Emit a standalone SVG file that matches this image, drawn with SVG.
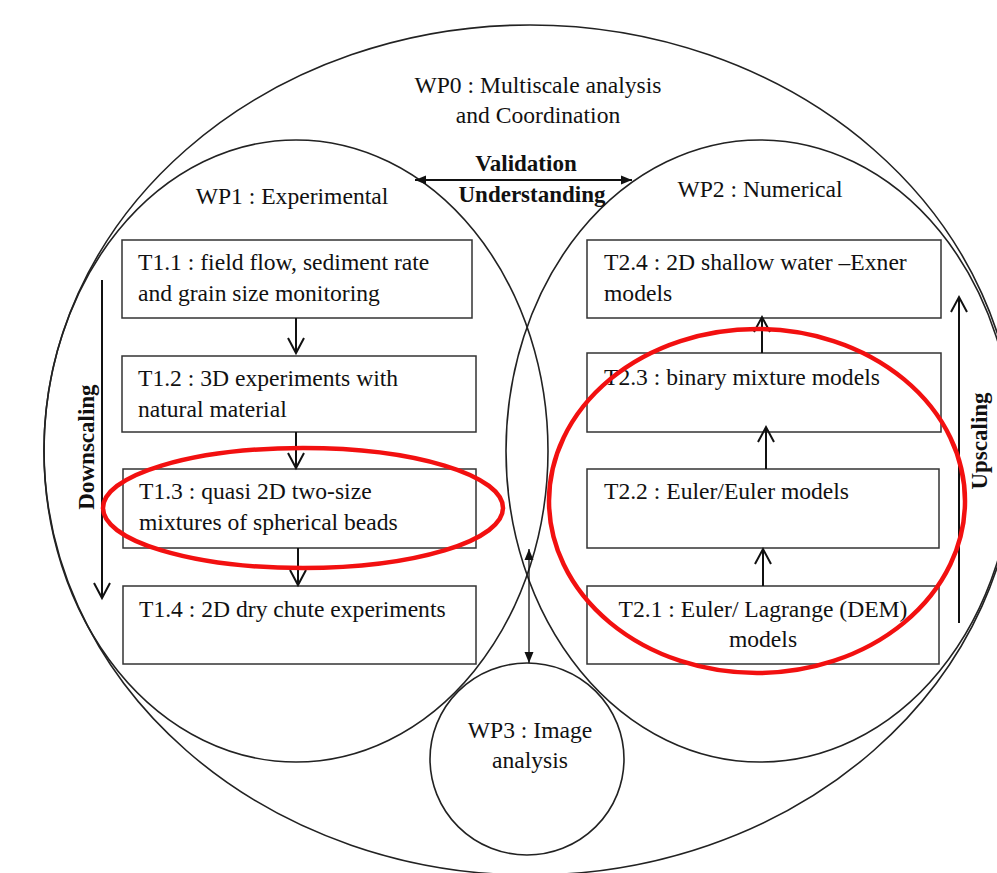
<svg xmlns="http://www.w3.org/2000/svg" width="997" height="873" viewBox="0 0 997 873">
<style>
.wp{fill:none;stroke:#222;stroke-width:1.6}
.box{fill:#fff;stroke:#333;stroke-width:1.5}
.red{fill:none;stroke:#f21010;stroke-width:4.5}
.t{font-family:"Liberation Serif","Times New Roman",serif;font-size:23.6px;fill:#111}
.b{font-family:"Liberation Serif","Times New Roman",serif;font-size:23px;font-weight:bold;fill:#111}
.m{text-anchor:middle}
.ar{fill:none;stroke:#111;stroke-width:2}
.thin{fill:none;stroke:#111;stroke-width:1.3}
</style>
<defs>
<marker id="v" markerUnits="userSpaceOnUse" markerWidth="20" markerHeight="20" refX="0" refY="0" viewBox="-18 -10 20 20" orient="auto" overflow="visible">
<path d="M-15,-8 L0,0 L-15,8" fill="none" stroke="#111" stroke-width="2"/>
</marker>
<marker id="f" markerUnits="userSpaceOnUse" markerWidth="14" markerHeight="12" refX="0" refY="0" viewBox="-12 -6 14 12" orient="auto-start-reverse" overflow="visible">
<path d="M-11,-4.5 L0,0 L-11,4.5 Z" fill="#111"/>
</marker>
</defs>
<rect width="997" height="873" fill="#fff"/>
<g id="wp0"><ellipse class="wp" cx="530" cy="450" rx="486" ry="425"/>
<text class="t m" x="538" y="93">WP0 : Multiscale analysis</text>
<text class="t m" x="538" y="123">and Coordination</text></g>
<g id="wp1"><ellipse class="wp" cx="296" cy="451" rx="252" ry="311"/>
<text class="t m" x="292" y="204">WP1 : Experimental</text></g>
<g id="wp2"><ellipse class="wp" cx="760" cy="451" rx="254" ry="311"/>
<text class="t m" x="760" y="197">WP2 : Numerical</text></g>
<g id="wp3"><ellipse class="wp" cx="527" cy="759" rx="97" ry="96"/>
<text class="t m" x="530" y="738">WP3 : Image</text>
<text class="t m" x="530" y="768">analysis</text></g>
<g id="t11"><rect class="box" x="122" y="240" width="350" height="78"/>
<text class="t" x="138" y="270">T1.1 : field flow, sediment rate</text>
<text class="t" x="138" y="301">and grain size monitoring</text></g>
<g id="t12"><rect class="box" x="122" y="356" width="354" height="76"/>
<text class="t" x="138" y="386">T1.2 : 3D experiments with</text>
<text class="t" x="138" y="417">natural material</text></g>
<g id="t13"><rect class="box" x="123" y="469" width="353" height="79"/>
<text class="t" x="139" y="499">T1.3 : quasi 2D two-size</text>
<text class="t" x="139" y="530">mixtures of spherical beads</text></g>
<g id="t14"><rect class="box" x="123" y="586" width="353" height="78"/>
<text class="t" x="139" y="617">T1.4 : 2D dry chute experiments</text></g>
<g id="t24"><rect class="box" x="587" y="240" width="354" height="78"/>
<text class="t" x="604" y="270">T2.4 : 2D shallow water –Exner</text>
<text class="t" x="604" y="301">models</text></g>
<g id="t23"><rect class="box" x="587" y="353" width="354" height="79"/>
<text class="t" x="604" y="385">T2.3 : binary mixture models</text></g>
<g id="t22"><rect class="box" x="587" y="469" width="352" height="79"/>
<text class="t" x="604" y="499">T2.2 : Euler/Euler models</text></g>
<g id="t21"><rect class="box" x="587" y="586" width="352" height="78"/>
<text class="t m" x="763" y="617">T2.1 : Euler/ Lagrange (DEM)</text>
<text class="t m" x="763" y="647">models</text></g>
<g id="connectors">
<line class="ar" x1="296" y1="318" x2="296" y2="353" marker-end="url(#v)"/>
<line class="ar" x1="296" y1="432" x2="296" y2="468" marker-end="url(#v)"/>
<line class="ar" x1="298" y1="548" x2="298" y2="585" marker-end="url(#v)"/>
<line class="ar" x1="763" y1="586" x2="763" y2="549" marker-end="url(#v)"/>
<line class="ar" x1="766" y1="469" x2="766" y2="427" marker-end="url(#v)"/>
<line class="ar" x1="762" y1="353" x2="762" y2="317" marker-end="url(#v)"/>
<line class="ar" x1="102" y1="280" x2="102" y2="598" marker-end="url(#v)"/>
<line class="ar" x1="959" y1="623" x2="959" y2="297" marker-end="url(#v)"/>
<line class="ar" x1="415" y1="180" x2="632" y2="180" marker-start="url(#f)" marker-end="url(#f)"/>
<line class="thin" x1="529" y1="549" x2="529" y2="663" marker-start="url(#f)" marker-end="url(#f)"/>
</g>
<g id="labels">
<text class="b m" x="526" y="171">Validation</text>
<text class="b m" x="532" y="202">Understanding</text>
<text class="b m" transform="translate(94,447) rotate(-90)">Downscaling</text>
<text class="b m" transform="translate(987,441) rotate(-90)">Upscaling</text>
</g>
<g id="highlights">
<ellipse class="red" cx="303" cy="508" rx="200" ry="60"/>
<ellipse class="red" cx="757" cy="501" rx="208" ry="172"/>
</g>
</svg>
